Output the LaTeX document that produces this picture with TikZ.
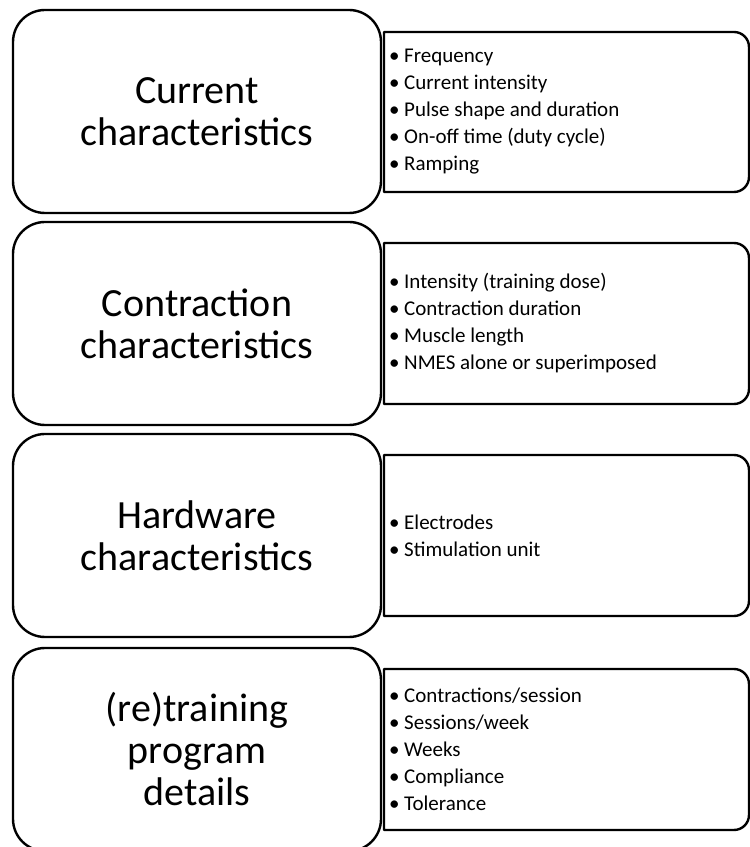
\documentclass[tikz,border=0pt]{standalone}
\usepackage{fontspec}
\setmainfont{Carlito}
\tikzset{
  frame/.style={draw=black, line width=2.4pt, line join=round},
  titlebox/.style={frame, fill=white, rounded corners=32pt, minimum width=368pt, minimum height=203pt,
    align=center, inner sep=0pt, font=\fontsize{40}{42}\selectfont},
  itemlist/.style={anchor=west, align=left, inner sep=0pt, font=\fontsize{21}{27}\selectfont},
}
\newcommand{\itm}[1]{\makebox[16pt][l]{\hspace{1pt}•}#1}
\begin{document}
\begin{tikzpicture}[x=1pt,y=1pt]
\useasboundingbox (0,0) rectangle (750,847);
% right boxes (behind)
\draw[frame] (384,815) -- (734,815) arc[start angle=90,end angle=0,radius=15] -- (749,670) arc[start angle=0,end angle=-90,radius=15] -- (384,655) -- cycle;
\draw[frame] (384,604) -- (734,604) arc[start angle=90,end angle=0,radius=15] -- (749,458) arc[start angle=0,end angle=-90,radius=15] -- (384,443) -- cycle;
\draw[frame] (384,392) -- (734,392) arc[start angle=90,end angle=0,radius=15] -- (749,246) arc[start angle=0,end angle=-90,radius=15] -- (384,231) -- cycle;
\draw[frame] (384,178) -- (734,178) arc[start angle=90,end angle=0,radius=15] -- (749,32) arc[start angle=0,end angle=-90,radius=15] -- (384,17) -- cycle;
% left boxes
\node[titlebox] (t1) at (197,735.5) {Current\\characteristics};
\node[titlebox] (t2) at (197,523.5) {Contraction\\characteristics};
\node[titlebox] (t3) at (197,311.5) {Hardware\\characteristics};
\node[titlebox] (t4) at (197,97.5) {(re)training\\program\\details};
% item lists
\node[itemlist] (l1) at (388,735) {\itm{Frequency}\\\itm{Current intensity}\\\itm{Pulse shape and duration}\\\itm{On-off time (duty cycle)}\\\itm{Ramping}};
\node[itemlist] (l2) at (388,523.5) {\itm{Intensity (training dose)}\\\itm{Contraction duration}\\\itm{Muscle length}\\\itm{NMES alone or superimposed}};
\node[itemlist] (l3) at (388,311.5) {\itm{Electrodes}\\\itm{Stimulation unit}};
\node[itemlist] (l4) at (388,97.5) {\itm{Contractions/session}\\\itm{Sessions/week}\\\itm{Weeks}\\\itm{Compliance}\\\itm{Tolerance}};
\end{tikzpicture}
\end{document}
